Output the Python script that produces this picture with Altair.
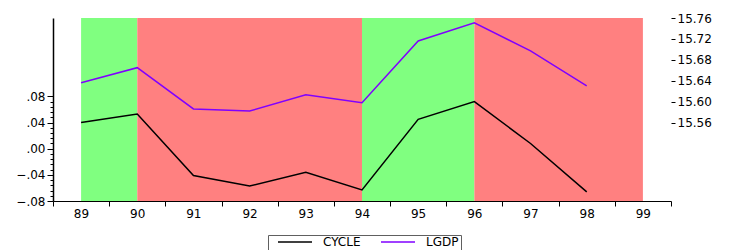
import altair as alt
import pandas as pd

# ---- data ----
years = [89, 90, 91, 92, 93, 94, 95, 96, 97, 98]
cycle = [0.040, 0.053, -0.041, -0.057, -0.036, -0.063, 0.045, 0.072, 0.008, -0.066]
lgdp = [15.636, 15.665, 15.586, 15.582, 15.613, 15.598, 15.716, 15.751, 15.697, 15.630]

phase_start = [89, 90, 94, 96]
phase_end = [90, 94, 96, 99]
phase_kind = ["expansion", "contraction", "expansion", "contraction"]

series_names = ["CYCLE", "LGDP"]
series_colors = ["#000000", "#8000FF"]
phase_names = ["expansion", "contraction"]
phase_colors = ["#80FF80", "#FF8080"]

x_ticks = [88.5 + i for i in range(12)]
left_ticks = [round(-0.08 + 0.008 * i, 3) for i in range(21)]
right_ticks = [15.56, 15.60, 15.64, 15.68, 15.72, 15.76]

# ---- tables ----
long = pd.DataFrame({
    "year": years * 2,
    "value": cycle + lgdp,
    "series": [series_names[0]] * len(years) + [series_names[1]] * len(years),
})
phases = pd.DataFrame({"start": phase_start, "end": phase_end, "kind": phase_kind})

FONT = "DejaVu Sans"

xs = alt.Scale(domain=[88.5, 99.5], nice=False, zero=False)
x_axis = alt.Axis(
    values=x_ticks, title=None, grid=False, tickSize=5, labelOffset=28,
    labelPadding=2, labelFontSize=12,
    labelExpr="datum.value < 99 ? toString(datum.value + 0.5) : ''",
    domainWidth=1, labelFlush=False, labelOverlap=False,
)

left_axis = alt.Axis(
    orient="left", values=left_ticks, title=None, grid=False,
    tickSize={"condition": {"test": "abs(round(datum.value * 1000)) % 40 == 0", "value": 6}, "value": 3},
    labelExpr="abs(round(datum.value * 1000)) % 40 == 0 ? replace(format(datum.value, '.2f'), '0.', '.') : ''",
    labelPadding=2, labelFontSize=12, domainWidth=1.5, labelOverlap=False,
)

right_axis = alt.Axis(
    orient="right", values=right_ticks, title=None, grid=False, domain=False,
    tickSize=4, labelPadding=2, format=".2f", labelFontSize=12, labelOverlap=False,
)

stroke_scale = alt.Scale(domain=series_names, range=series_colors)
legend = alt.Legend(
    orient="none", legendX=215, legendY=217, direction="horizontal", title=None,
    symbolType="stroke", symbolSize=1156, symbolStrokeWidth=1.5,
    labelFontSize=12, labelFont=FONT, labelColor="black",
    strokeColor="#606060", fillColor="white", padding=2, clipHeight=10,
    symbolOffset=7, labelOffset=10, columnPadding=12,
)

shade = alt.Chart(phases).mark_rect().encode(
    x=alt.X("start:Q", scale=xs, axis=x_axis),
    x2="end:Q",
    fill=alt.Fill("kind:N", scale=alt.Scale(domain=phase_names, range=phase_colors), legend=None),
)

cycle_line = alt.Chart(long).transform_filter("datum.series == 'CYCLE'").mark_line(strokeWidth=1.5).encode(
    x=alt.X("year:Q", scale=xs, axis=x_axis),
    y=alt.Y("value:Q", scale=alt.Scale(domain=[-0.08, 0.20], nice=False, zero=False), axis=left_axis),
    stroke=alt.Stroke("series:N", scale=stroke_scale, legend=legend),
)

lgdp_line = alt.Chart(long).transform_filter("datum.series == 'LGDP'").mark_line(strokeWidth=1.5).encode(
    x=alt.X("year:Q", scale=xs, axis=x_axis),
    y=alt.Y("value:Q", scale=alt.Scale(domain=[15.41, 15.76], nice=False, zero=False), axis=right_axis),
    stroke=alt.Stroke("series:N", scale=stroke_scale, legend=legend),
)

chart = alt.layer(shade, cycle_line, lgdp_line).resolve_scale(
    y="independent"
).properties(
    width=618, height=183,
    autosize=alt.AutoSizeParams(type="none"),
    padding={"left": 45, "top": 10, "right": 50, "bottom": 49},
).configure_view(stroke=None).configure_axis(
    labelFont=FONT, labelColor="black", tickColor="black", domainColor="black",
)

chart.save("out.html", embed_options={"renderer": "svg", "actions": False})
